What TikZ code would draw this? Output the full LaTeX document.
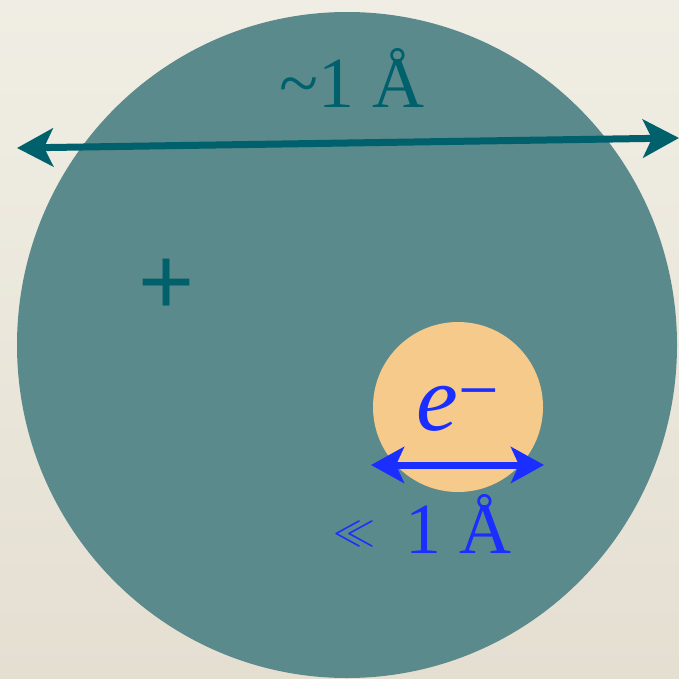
\RequirePackage{fix-cm}
\documentclass[tikz,border=0pt]{standalone}
\usepackage{fontspec}
\setmainfont{Liberation Serif}
\newfontfamily\plusfont{Liberation Sans}
\usetikzlibrary{arrows.meta}
\definecolor{bgtop}{HTML}{F0EEE4}
\definecolor{bgbot}{HTML}{E5DFD2}
\definecolor{atomfill}{HTML}{5B8A8C}
\definecolor{darkteal}{HTML}{00606C}
\definecolor{elecfill}{HTML}{F6CA8A}
\definecolor{elecblue}{HTML}{1A2EFF}
\tikzset{
  dimarrow/.style={line width=7pt, {Stealth[length=36pt,width=38pt,inset=9pt]}-{Stealth[length=36pt,width=38pt,inset=9pt]}},
  smallarrow/.style={line width=7pt, {Stealth[length=33pt,width=36pt,inset=8pt]}-{Stealth[length=33pt,width=36pt,inset=8pt]}},
  bigtext/.style={font=\fontsize{72}{72}\selectfont, inner sep=0pt, anchor=base}
}
\begin{document}
\begin{tikzpicture}[x=1pt,y=-1pt]
\useasboundingbox (0,0) rectangle (679,679);
\shade[top color=bgtop, bottom color=bgbot] (0,0) rectangle (679,679);
% atom
\fill[atomfill] (347,345) ellipse [x radius=330, y radius=333];
% size arrow
\coordinate (aL) at (17,148);
\coordinate (aR) at (679,138);
\draw[dimarrow, darkteal] (aL) -- (aR);
\node[bigtext, text=darkteal] (size) at (352,108) {\textasciitilde 1 Å};
% nucleus charge
\node[inner sep=0pt, text=darkteal, font=\plusfont\fontsize{96}{96}\selectfont] (plus) at (167,287) {+};
% electron
\fill[elecfill] (458,407) circle [radius=85];
\node[inner sep=0pt, anchor=base, text=elecblue, font=\fontsize{94}{94}\selectfont] (elec) at (458,430) {\textit{e}\raisebox{0.17em}{\fontsize{72}{72}\selectfont −}};
\coordinate (bL) at (371,465);
\coordinate (bR) at (544,465);
\draw[smallarrow, elecblue] (bL) -- (bR);
\node[bigtext, anchor=base west, text=elecblue] (esize) at (333,553) {\raisebox{9pt}{\fontsize{42}{42}\selectfont$\ll$}\hspace{30pt}1 Å};
\end{tikzpicture}
\end{document}
